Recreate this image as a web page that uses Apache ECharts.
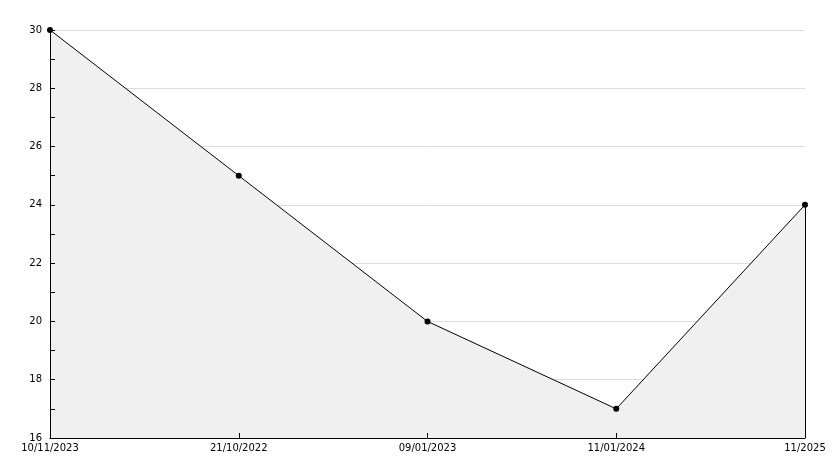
<!DOCTYPE html>
<html><head><meta charset="utf-8">
<script src="https://cdn.jsdelivr.net/npm/echarts@6/dist/echarts.min.js"></script>
<style>html,body{margin:0;padding:0;background:#fff}#c{width:834px;height:468px}</style>
</head><body><div id="c"></div>
<script>
const categories = ["10/11/2023", "21/10/2022", "09/01/2023", "11/01/2024", "11/2025"];
const values = [30, 25, 20, 17, 24];
const yMin = 16, yMax = 30, yStep = 2;

const chart = echarts.init(document.getElementById('c'), null, {renderer: 'canvas'});
const font = 'DejaVu Sans';
const last = values.length - 1;
chart.setOption({
  animation: false,
  backgroundColor: '#fff',
  grid: {left: 50, right: 29, top: 30, bottom: 30, containLabel: false},
  xAxis: {
    type: 'category', data: categories, boundaryGap: false, z: 10,
    axisLine: {lineStyle: {color: '#000', width: 1}},
    axisTick: {inside: true, length: 5, lineStyle: {color: '#000'}},
    axisLabel: {color: '#000', fontFamily: font, fontSize: 10, margin: 5, interval: 0},
    splitLine: {show: false}
  },
  yAxis: [{
    type: 'value', min: yMin, max: yMax, interval: yStep, z: 0,
    axisLine: {show: false}, axisTick: {show: false}, axisLabel: {show: false},
    splitLine: {show: true, lineStyle: {color: '#dddddd', width: 1}}
  }, {
    type: 'value', min: yMin, max: yMax, interval: yStep, z: 10, position: 'left',
    axisLine: {show: true, lineStyle: {color: '#000', width: 1}},
    axisTick: {show: true, inside: true, length: 5, lineStyle: {color: '#000'}},
    minorTick: {show: true, splitNumber: 2, length: 5, lineStyle: {color: '#000'}},
    axisLabel: {color: '#000', fontFamily: font, fontSize: 10, margin: 8},
    splitLine: {show: false}
  }],
  series: [{
    type: 'line', data: values, z: 2, yAxisIndex: 0,
    lineStyle: {color: '#000', width: 1},
    areaStyle: {color: '#f0f0f0', opacity: 1, origin: 'start'},
    symbol: 'circle', symbolSize: 6,
    itemStyle: {color: '#000'},
    markLine: {
      silent: true, symbol: 'none', label: {show: false},
      lineStyle: {color: '#000', width: 1, type: 'solid'},
      data: [[{coord: [last, values[last]]}, {coord: [last, yMin]}]]
    }
  }]
});
</script></body></html>
